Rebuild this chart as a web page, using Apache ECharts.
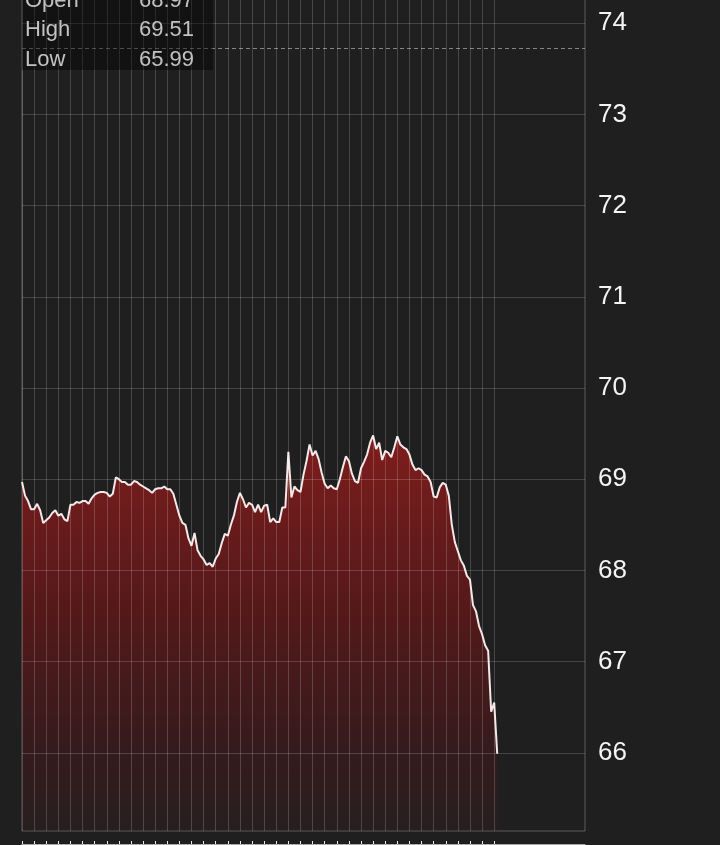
<!DOCTYPE html>
<html>
<head>
<meta charset="utf-8">
<script src="https://cdn.jsdelivr.net/npm/echarts@6/dist/echarts.min.js"></script>
<style>
  html, body { margin: 0; padding: 0; background: #1f1f1f; overflow: hidden; width: 720px; height: 845px; }
  #chart { position: absolute; left: 0; top: -68px; width: 720px; height: 913px; }
</style>
</head>
<body>
<div id="chart"></div>
<script>
// ---- data ----
const slotCount = 187;            // time slots across the full session
const slots = Array.from({ length: slotCount }, (_, i) => i);
const prices = [
  68.97, 68.82, 68.76, 68.67, 68.67, 68.73, 68.66, 68.52, 68.55, 68.58,
  68.63, 68.66, 68.60, 68.62, 68.56, 68.54, 68.72, 68.72, 68.75, 68.74,
  68.76, 68.76, 68.73, 68.79, 68.83, 68.85, 68.86, 68.86, 68.85, 68.81,
  68.84, 69.02, 69.00, 68.97, 68.97, 68.94, 68.94, 68.98, 68.97, 68.94,
  68.92, 68.90, 68.88, 68.85, 68.89, 68.90, 68.90, 68.92, 68.89, 68.89,
  68.84, 68.72, 68.60, 68.52, 68.50, 68.35, 68.27, 68.41, 68.22, 68.16,
  68.12, 68.06, 68.08, 68.04, 68.13, 68.18, 68.30, 68.40, 68.38, 68.50,
  68.60, 68.75, 68.85, 68.78, 68.69, 68.74, 68.72, 68.64, 68.72, 68.64,
  68.71, 68.72, 68.53, 68.57, 68.53, 68.53, 68.69, 68.69, 69.30, 68.80,
  68.92, 68.88, 68.86, 69.05, 69.20, 69.38, 69.26, 69.31, 69.22, 69.07,
  68.95, 68.90, 68.93, 68.90, 68.89, 69.00, 69.13, 69.25, 69.20, 69.06,
  68.98, 68.96, 69.12, 69.19, 69.27, 69.40, 69.48, 69.33, 69.40, 69.21,
  69.31, 69.29, 69.24, 69.35, 69.47, 69.38, 69.35, 69.33, 69.27, 69.16,
  69.10, 69.12, 69.10, 69.05, 69.03, 68.97, 68.81, 68.80, 68.91, 68.96,
  68.94, 68.82, 68.50, 68.31, 68.21, 68.11, 68.05, 67.94, 67.90, 67.62,
  67.55, 67.39, 67.30, 67.18, 67.12, 66.45, 66.55, 65.99
];
const yTickLabels = [66, 67, 68, 69, 70, 71, 72, 73, 74];
const yMin = 65, yMax = 75, yStep = 1;
const fillBase = 65.15;
const referenceLine = 73.73;
const gridEvery = 4;               // vertical line every 4 slots
const lastGridSlot = 156;
const statLabels = ['Open', 'High', 'Low'];
const statValues = ['68.97', '69.51', '65.99'];

// ---- chart ----
const chart = echarts.init(document.getElementById('chart'), null, { renderer: 'canvas' });
const FONT = '"Liberation Sans", Arial, Helvetica, sans-serif';
const OFF = 68; // chart canvas starts 68px above the window

const statTexts = [];
statLabels.forEach((lab, k) => {
  const cy = OFF + 2 + k * 29.5;
  statTexts.push({
    type: 'text', left: 25, top: cy - 12.5, z: 101,
    style: { text: lab, fill: '#c2c2c2', font: '22px ' + FONT }
  });
  statTexts.push({
    type: 'text', right: 720 - 194, top: cy - 12.5, z: 101,
    style: { text: statValues[k], fill: '#c2c2c2', font: '22px ' + FONT, textAlign: 'right' }
  });
});

const option = {
  backgroundColor: '#1f1f1f',
  animation: false,
  grid: [
    { left: 22, right: 135, top: 0, bottom: 1, containLabel: false },
    { left: 22, right: 135, top: 0, bottom: 14, containLabel: false,
      show: true, borderColor: 'rgba(255,255,255,0.28)', borderWidth: 1, backgroundColor: 'transparent' }
  ],
  xAxis: [
    {
      gridIndex: 0, type: 'category', data: slots, boundaryGap: false,
      axisLine: { show: true, lineStyle: { color: 'rgba(255,255,255,0.55)', width: 1 } },
      axisTick: { show: true, inside: true, length: 3, alignWithLabel: true,
        interval: (i) => i % gridEvery === 0 && i <= lastGridSlot,
        lineStyle: { color: 'rgba(255,255,255,0.9)', width: 1 } },
      axisLabel: { show: false },
      splitLine: { show: false }
    },
    {
      gridIndex: 1, type: 'category', data: slots, boundaryGap: false, z: 6,
      axisLine: { show: false }, axisTick: { show: false }, axisLabel: { show: false },
      splitLine: { show: true,
        interval: (i) => i % gridEvery === 0 && i <= lastGridSlot,
        lineStyle: { color: 'rgba(255,255,255,0.18)', width: 1 } }
    }
  ],
  yAxis: [
    {
      gridIndex: 0, type: 'value', position: 'right', min: yMin, max: yMax, interval: yStep, z: 6,
      axisLine: { show: false }, axisTick: { show: false },
      axisLabel: { show: true, margin: 13, color: '#f4f4f4', fontSize: 26, fontFamily: FONT,
        formatter: (v) => yTickLabels.includes(v) ? String(v) : '' },
      splitLine: { show: true, lineStyle: { color: 'rgba(255,255,255,0.17)', width: 1 } }
    },
    { gridIndex: 1, type: 'value', min: yMin, max: yMax, show: false }
  ],
  series: [
    {
      type: 'line', xAxisIndex: 0, yAxisIndex: 0, data: prices,
      symbol: 'none', smooth: false, z: 2,
      lineStyle: { color: '#f5e8e8', width: 2 },
      areaStyle: {
        origin: fillBase,
        color: new echarts.graphic.LinearGradient(0, 0, 0, 1, [
          { offset: 0, color: 'rgb(168,28,28)' },
          { offset: 0.15, color: 'rgb(146,26,26)' },
          { offset: 0.45, color: 'rgb(106,22,23)' },
          { offset: 0.8, color: 'rgb(62,25,27)' },
          { offset: 1, color: 'rgb(42,30,32)' }
        ])
      },
      markLine: {
        silent: true, symbol: 'none', label: { show: false },
        lineStyle: { color: 'rgba(255,255,255,0.45)', type: [4, 3], width: 1 },
        data: [{ yAxis: referenceLine }]
      }
    }
  ],
  graphic: [
    { type: 'rect', left: 22, top: OFF - 40, z: 100,
      shape: { width: 191, height: 110 },
      style: { fill: 'rgba(0,0,0,0.42)' } },
    ...statTexts
  ]
};
chart.setOption(option);
</script>
</body>
</html>
